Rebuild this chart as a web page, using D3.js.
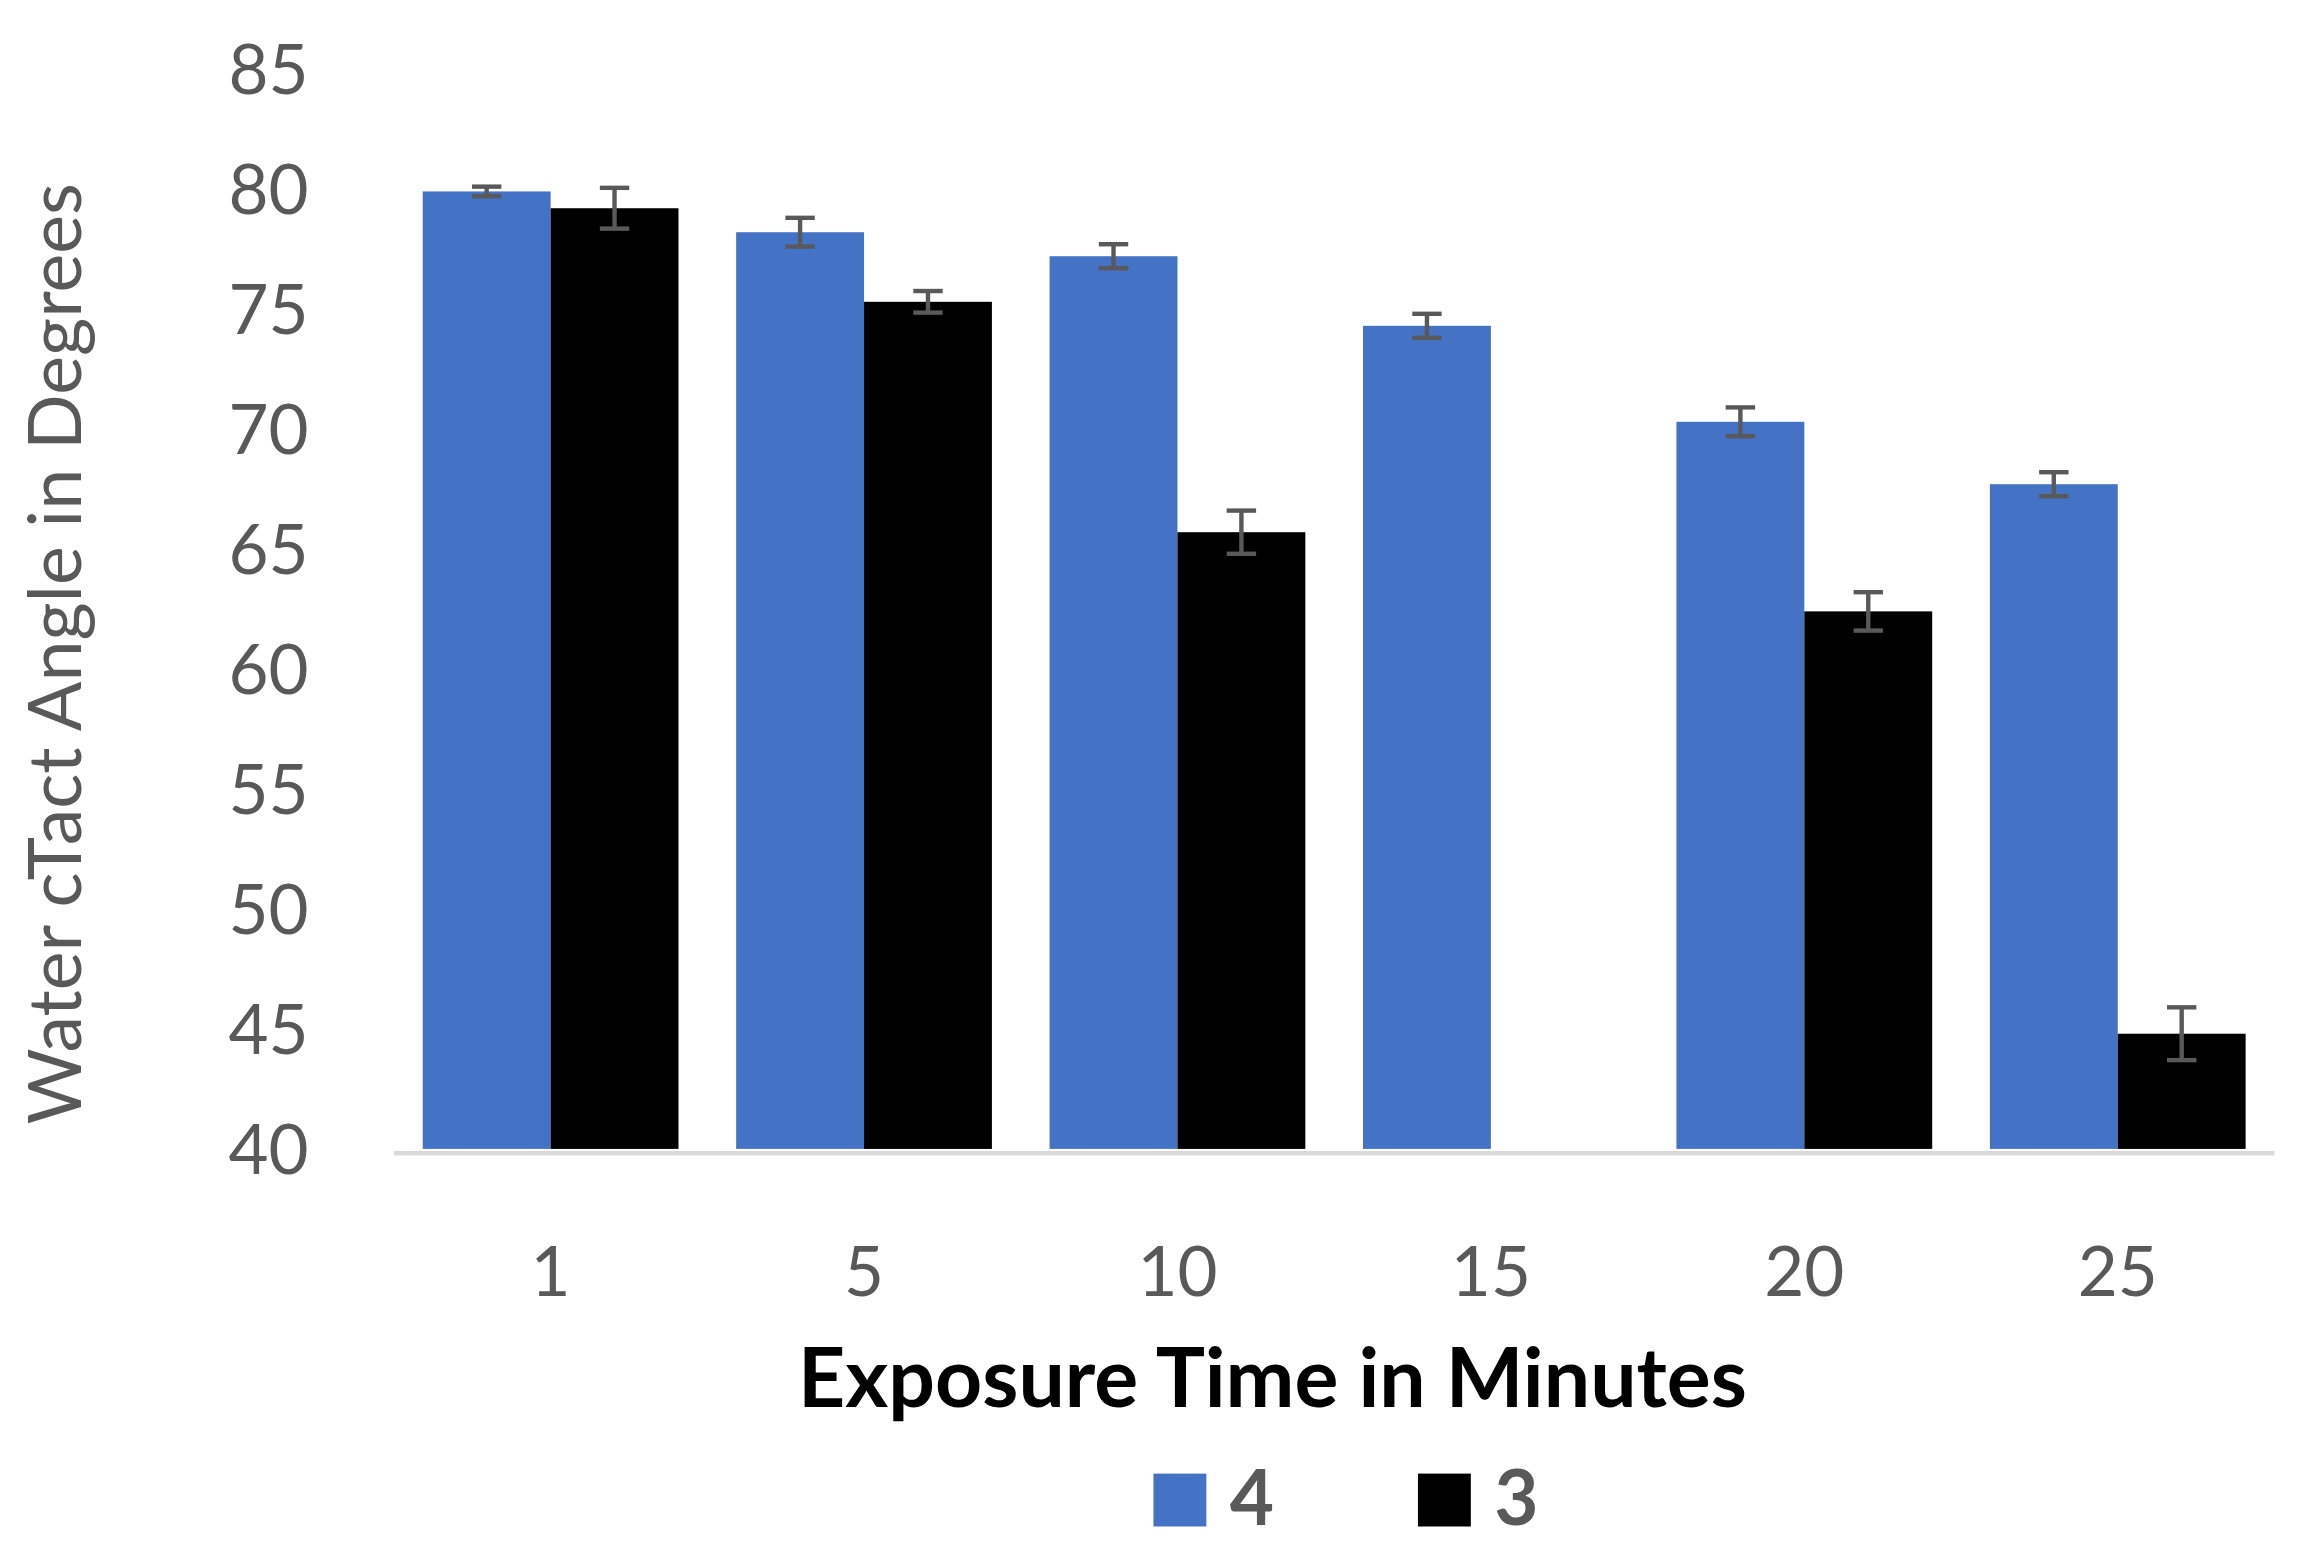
<!DOCTYPE html>
<html>
<head>
<meta charset="utf-8">
<script src="https://d3js.org/d3.v7.min.js"></script>
<style>
  body { margin: 0; background: #fff; }
  text { font-family: Lato, "Open Sans", sans-serif; }
</style>
</head>
<body>
<svg id="chart" width="2304" height="1550" viewBox="0 0 1568 1055"></svg>
<script>
var categories = ['1', '5', '10', '15', '20', '25'];
var seriesNames = ['4', '3'];
var series4 = [79.9, 78.2, 77.2, 74.3, 70.3, 67.7];
var series4Err = [0.2, 0.6, 0.5, 0.5, 0.6, 0.5];
var series3 = [79.2, 75.3, 65.7, null, 62.4, 44.8];
var series3Err = [0.85, 0.45, 0.9, null, 0.8, 1.1];
var yTicks = [40, 45, 50, 55, 60, 65, 70, 75, 80, 85];
var colors = ['#4472c4', '#000000'];

var svg = d3.select('#chart');
var plotLeft = 268, plotRight = 1548, plotTop = 47, plotBottom = 782;

var x = d3.scaleBand().domain(categories).range([plotLeft, plotRight]).paddingInner(0.184).paddingOuter(0.092);
var xs = d3.scaleBand().domain(seriesNames).range([0, x.bandwidth()]);
var y = d3.scaleLinear().domain([40, 85]).range([plotBottom, plotTop]);

var rows = [];
categories.forEach((c, i) => {
    rows.push({cat: c, s: '4', v: series4[i], e: series4Err[i]});
    rows.push({cat: c, s: '3', v: series3[i], e: series3Err[i]});
});
rows = rows.filter(d => d.v != null);

svg.selectAll('rect.bar').data(rows).enter().append('rect')
    .attr('x', d => x(d.cat) + xs(d.s))
    .attr('y', d => y(d.v))
    .attr('width', xs.bandwidth())
    .attr('height', d => y(40) - y(d.v))
    .attr('fill', d => colors[seriesNames.indexOf(d.s)]);

// axis line
svg.append('line').attr('x1', plotLeft).attr('x2', plotRight)
    .attr('y1', plotBottom + 3).attr('y2', plotBottom + 3)
    .attr('stroke', '#d9d9d9').attr('stroke-width', 3);

// error bars
var eb = svg.selectAll('g.err').data(rows).enter().append('g')
    .attr('stroke', '#595959').attr('stroke-width', 3);
var cx = d => x(d.cat) + xs(d.s) + xs.bandwidth() / 2;
eb.append('line').attr('x1', cx).attr('x2', cx)
    .attr('y1', d => y(d.v + d.e)).attr('y2', d => y(d.v - d.e));
eb.append('line').attr('x1', d => cx(d) - 10).attr('x2', d => cx(d) + 10)
    .attr('y1', d => y(d.v + d.e)).attr('y2', d => y(d.v + d.e));
eb.append('line').attr('x1', d => cx(d) - 10).attr('x2', d => cx(d) + 10)
    .attr('y1', d => y(d.v - d.e)).attr('y2', d => y(d.v - d.e));

// y tick labels
svg.selectAll('text.yt').data(yTicks).enter().append('text')
    .attr('x', 210).attr('y', d => y(d)).attr('dy', '0.36em')
    .attr('text-anchor', 'end').attr('font-size', 47).attr('fill', '#595959')
    .text(d => d);

// x tick labels
svg.selectAll('text.xt').data(categories).enter().append('text')
    .attr('x', d => x(d) + x.bandwidth() / 2).attr('y', 882)
    .attr('text-anchor', 'middle').attr('font-size', 47).attr('fill', '#595959')
    .text(d => d);

svg.append('text').attr('x', 866).attr('y', 958).attr('text-anchor', 'middle')
    .attr('font-size', 56).attr('font-weight', 'bold').attr('fill', '#000')
    .text('Exposure Time in Minutes');

svg.append('text').attr('transform', 'translate(55,445) rotate(-90)')
    .attr('text-anchor', 'middle').attr('font-size', 50).attr('fill', '#595959')
    .text('Water cTact Angle in Degrees');

// legend
var legX = [785, 965];
seriesNames.forEach((s, i) => {
    svg.append('rect').attr('x', legX[i]).attr('y', 1003).attr('width', 36).attr('height', 36)
        .attr('fill', colors[i]);
    svg.append('text').attr('x', legX[i] + 52).attr('y', 1038)
        .attr('font-size', 52).attr('font-weight', 'bold').attr('fill', '#595959').text(s);
});
</script>
</body>
</html>
